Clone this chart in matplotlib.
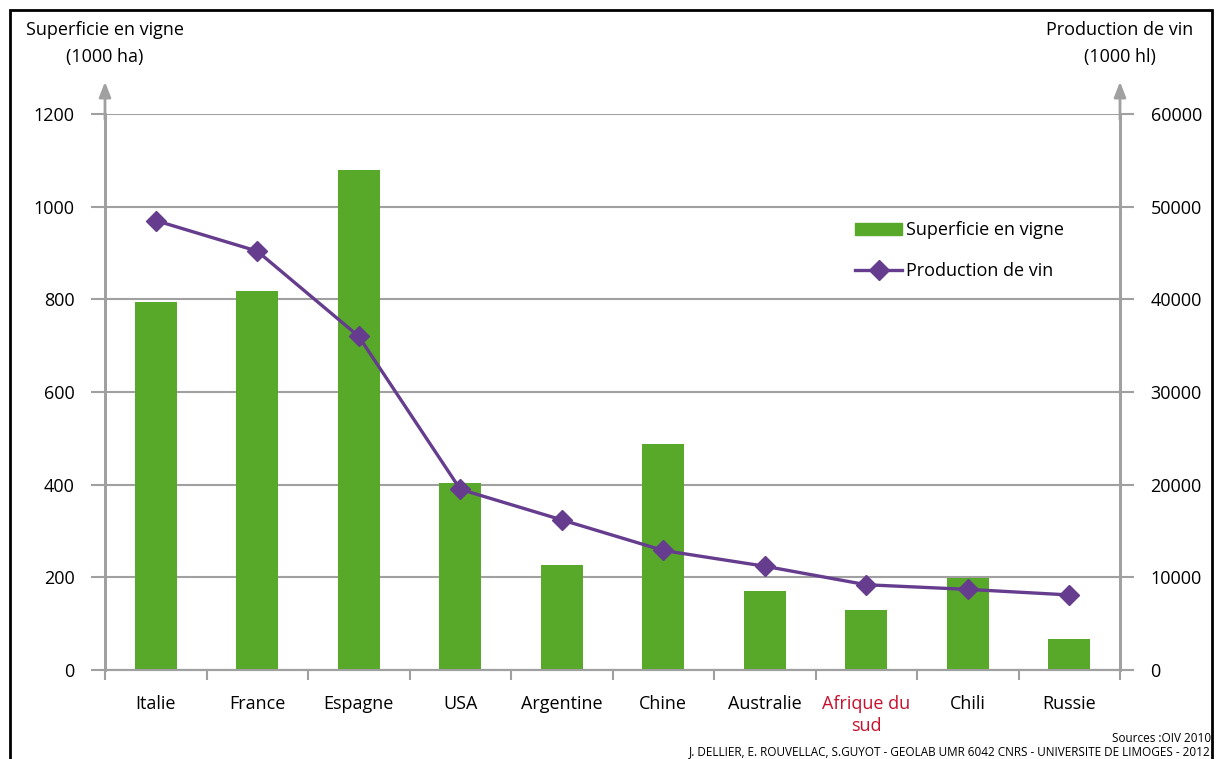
import matplotlib
matplotlib.use("Agg")
import matplotlib.pyplot as plt
from matplotlib.patches import Rectangle
from matplotlib.lines import Line2D
from matplotlib.patches import Patch

plt.rcParams['font.family'] = ['Open Sans', 'DejaVu Sans']

countries = ["Italie", "France", "Espagne", "USA", "Argentine", "Chine",
             "Australie", "Afrique du\nsud", "Chili", "Russie"]
superficie = [794, 818, 1079, 404, 226, 488, 171, 130, 199, 67]
production = [48500, 45200, 36000, 19500, 16200, 12900, 11200, 9200, 8700, 8100]

green = '#58a82a'
purple = '#663d8e'
grey = '#a0a0a0'

fig = plt.figure(figsize=(12.2, 7.59), dpi=100)
ax = fig.add_axes([105/1220, 1-670/759, (1120-105)/1220, (670-114)/759])
ax2 = ax.twinx()

x = list(range(len(countries)))
ax.bar(x, superficie, width=0.41, color=green, zorder=3)
ax2.plot(x, production, color=purple, lw=2.4, marker='D', markersize=10, zorder=4)

ax.set_xlim(-0.5, 9.5)
ax.set_ylim(0, 1200)
ax2.set_ylim(0, 60000)
ax.set_yticks(range(0, 1201, 200))
ax2.set_yticks(range(0, 60001, 10000))

ax.grid(axis='y', color=grey, lw=1.5, zorder=0)
ax.set_axisbelow(True)

for a in (ax, ax2):
    a.spines['top'].set_visible(False)
    for s in ('bottom', 'left', 'right'):
        a.spines[s].set_color(grey)
    a.spines['bottom'].set_linewidth(1.5)
    a.spines['left'].set_linewidth(2)
    a.spines['right'].set_linewidth(2)

ax.tick_params(axis='y', length=10, width=1.5, color=grey, labelsize=13, pad=12)
ax2.tick_params(axis='y', length=10, width=1.5, color=grey, labelsize=13, pad=12)
ax.set_xticks(x)
ax.set_xticklabels(countries, fontsize=13, linespacing=1.3)
ax.tick_params(axis='x', which='major', length=0, pad=18)
ax.set_xticks([i - 0.5 for i in range(11)], minor=True)
ax.tick_params(axis='x', which='minor', length=7, width=1.5, color=grey)
ax.get_xticklabels()[7].set_color('#c8102e')

# arrows on the axes
for xf in (0, 1):
    ax.annotate('', xy=(xf, 1.058), xytext=(xf, 0.99), xycoords='axes fraction',
                arrowprops=dict(arrowstyle='-|>,head_length=0.9,head_width=0.35',
                                color=grey, lw=2, shrinkA=0, shrinkB=0),
                annotation_clip=False)

fig.text(105/1220, 1-30/759, "Superficie en vigne", ha='center', va='center', fontsize=13)
fig.text(105/1220, 1-57/759, "(1000 ha)", ha='center', va='center', fontsize=13)
fig.text(1120/1220, 1-30/759, "Production de vin", ha='center', va='center', fontsize=13)
fig.text(1120/1220, 1-57/759, "(1000 hl)", ha='center', va='center', fontsize=13)

handles = [Patch(color=green, label='Superficie en vigne'),
           Line2D([], [], color=purple, lw=2.4, marker='D', markersize=10, label='Production de vin')]
leg = ax.legend(handles=handles, loc='upper left', bbox_to_anchor=(0.723, 0.836),
                frameon=False, fontsize=13, handlelength=2.6, handletextpad=0.2,
                labelspacing=1.25)
leg.set_zorder(10)

fig.text(1211/1220, 1-738/759, "Sources :OIV 2010", ha='right', va='center', fontsize=8.5)
fig.text(1211/1220, 1-752/759, "J. DELLIER, E. ROUVELLAC, S.GUYOT - GEOLAB UMR 6042 CNRS - UNIVERSITE DE LIMOGES - 2012",
         ha='right', va='center', fontsize=8.5)

fig.patches.append(Rectangle((10/1220, -0.01), (1212-10)/1220, 1.01-10/759, transform=fig.transFigure,
                             fill=False, edgecolor='black', lw=2))

fig.savefig('out.png', dpi=100)
